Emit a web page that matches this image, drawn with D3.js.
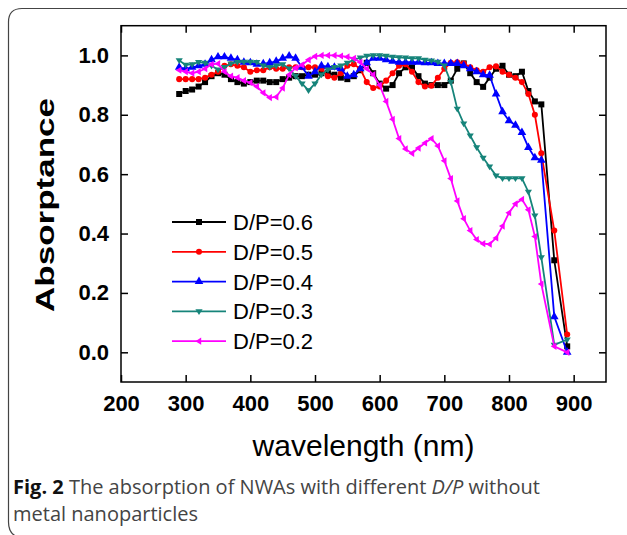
<!DOCTYPE html>
<html>
<head>
<meta charset="utf-8">
<script src="https://cdn.jsdelivr.net/npm/d3@7"></script>
<style>
  html, body { margin: 0; padding: 0; background: #fff; }
</style>
</head>
<body>
<div id="chart"></div>
<script>
// Absorptance of NWAs for different D/P ratios

// wavelength grid (nm), shared by every series
const wavelengths = [
  290, 300, 310, 320, 330, 340, 350, 360, 370, 380, 390, 400, 410, 420, 430,
  440, 450, 460, 470, 480, 490, 500, 510, 520, 530, 540, 550, 560, 570, 580,
  590, 600, 610, 620, 630, 640, 650, 660, 670, 680, 690, 700, 710, 720, 730,
  740, 750, 760, 770, 780, 790, 800, 810, 820, 830, 840, 850, 870, 890,
];

const dp06 = [
  0.87, 0.88, 0.885, 0.895, 0.91, 0.93, 0.94, 0.935, 0.92, 0.91, 0.905, 0.91,
  0.915, 0.915, 0.91, 0.91, 0.92, 0.925, 0.93, 0.93, 0.935, 0.935, 0.94, 0.94,
  0.935, 0.925, 0.92, 0.93, 0.95, 0.975, 0.94, 0.905, 0.888, 0.9, 0.94, 0.96,
  0.96, 0.93, 0.905, 0.9, 0.9, 0.9, 0.915, 0.955, 0.973, 0.94, 0.91, 0.894,
  0.925, 0.955, 0.965, 0.935, 0.93, 0.945, 0.88, 0.845, 0.835, 0.31, 0.02,
];
const dp05 = [
  0.92, 0.92, 0.92, 0.92, 0.925, 0.935, 0.945, 0.965, 0.97, 0.965, 0.96, 0.945,
  0.95, 0.95, 0.96, 0.955, 0.955, 0.96, 0.96, 0.96, 0.96, 0.96, 0.955, 0.93,
  0.925, 0.94, 0.965, 0.97, 0.955, 0.91, 0.89, 0.895, 0.915, 0.94, 0.965, 0.97,
  0.945, 0.91, 0.895, 0.898, 0.925, 0.955, 0.975, 0.977, 0.973, 0.96, 0.95,
  0.945, 0.96, 0.963, 0.945, 0.935, 0.925, 0.91, 0.87, 0.8, 0.67, 0.41, 0.06,
];
const dp04 = [
  0.96, 0.955, 0.96, 0.965, 0.97, 0.985, 0.995, 0.995, 0.99, 0.985, 0.977,
  0.975, 0.97, 0.972, 0.975, 0.98, 0.99, 0.998, 0.99, 0.96, 0.93, 0.945, 0.965,
  0.962, 0.96, 0.955, 0.93, 0.935, 0.955, 0.975, 0.99, 0.99, 0.985, 0.98,
  0.977, 0.977, 0.977, 0.977, 0.975, 0.975, 0.973, 0.973, 0.973, 0.973, 0.965,
  0.955, 0.945, 0.935, 0.933, 0.87, 0.81, 0.78, 0.765, 0.74, 0.69, 0.655,
  0.647, 0.12, 0.0,
];
const dp03 = [
  0.983, 0.968, 0.97, 0.977, 0.975, 0.965, 0.952, 0.96, 0.972, 0.977, 0.978,
  0.978, 0.977, 0.965, 0.96, 0.965, 0.97, 0.955, 0.93, 0.905, 0.882, 0.905,
  0.935, 0.952, 0.96, 0.965, 0.975, 0.985, 0.992, 0.998, 1.0, 1.0, 0.998,
  0.995, 0.993, 0.992, 0.99, 0.99, 0.985, 0.982, 0.978, 0.965, 0.91, 0.82,
  0.77, 0.73, 0.69, 0.655, 0.625, 0.595, 0.586, 0.586, 0.586, 0.586, 0.54,
  0.46, 0.32, 0.025, 0.043,
];
const dp02 = [
  0.95, 0.945, 0.94, 0.945, 0.955, 0.97, 0.972, 0.945, 0.93, 0.925, 0.915,
  0.908, 0.895, 0.874, 0.858, 0.86, 0.89, 0.935, 0.958, 0.968, 0.985, 0.997,
  1.0, 1.0, 1.0, 0.998, 0.995, 0.99, 0.977, 0.955, 0.935, 0.9, 0.845, 0.785,
  0.72, 0.685, 0.67, 0.688, 0.705, 0.72, 0.695, 0.645, 0.585, 0.51, 0.45, 0.41,
  0.38, 0.366, 0.364, 0.385, 0.425, 0.47, 0.5, 0.515, 0.48, 0.39, 0.23, 0.02,
  0.0,
];

const seriesNames = ["D/P=0.6", "D/P=0.5", "D/P=0.4", "D/P=0.3", "D/P=0.2"];
const seriesValues = [dp06, dp05, dp04, dp03, dp02];
const seriesColours = ["#000000", "#ff0000", "#0000ff", "#16847a", "#ff00ff"];
// square, circle, up triangle, down triangle, left triangle
const seriesMarkers = ["square", "circle", "up", "down", "left"];

const xTicks = [200, 300, 400, 500, 600, 700, 800, 900];
const yTicks = [0.0, 0.2, 0.4, 0.6, 0.8, 1.0];

const width = 627;
const height = 535;
const tickFont = "'Liberation Sans', Arial, sans-serif";

let svg = d3
  .select("#chart")
  .append("svg")
  .attr("width", width)
  .attr("height", height)
  .style("display", "block");

// rounded frame round the figure + caption
svg
  .append("path")
  .attr("d", "M 640 8.5 H 22 Q 8.5 8.5 8.5 22 V 522 Q 8.5 534 18 537")
  .attr("fill", "none")
  .attr("stroke", "#444")
  .attr("stroke-width", 1.2);

const plot = { left: 121, right: 606, top: 25.7, bottom: 382 };

const x = d3.scaleLinear().domain([200, 950]).range([plot.left, plot.right]);
const y = d3.scaleLinear().domain([-0.1, 1.1]).range([plot.bottom, plot.top]);

// axes with inward ticks, on all four sides
const axisStyle = function (g) {
  g.select(".domain").remove();
  g.selectAll(".tick line").attr("stroke", "#000").attr("stroke-width", 1.5);
  g.selectAll(".tick text")
    .style("font-family", tickFont)
    .style("font-weight", "bold")
    .style("font-size", "22px")
    .attr("fill", "#000");
};

svg
  .append("g")
  .attr("transform", `translate(0,${plot.bottom})`)
  .call(
    d3.axisBottom(x).tickValues(xTicks).tickSizeInner(-7).tickSizeOuter(0)
      .tickPadding(13).tickFormat(d3.format("d"))
  )
  .call(axisStyle);

svg
  .append("g")
  .attr("transform", `translate(0,${plot.top})`)
  .call(d3.axisTop(x).tickValues(xTicks).tickSizeInner(-7).tickFormat(""))
  .call(axisStyle);

svg
  .append("g")
  .attr("transform", `translate(${plot.left},0)`)
  .call(
    d3.axisLeft(y).tickValues(yTicks).tickSizeInner(-7).tickPadding(12)
      .tickFormat(d3.format(".1f"))
  )
  .call(axisStyle);

svg
  .append("g")
  .attr("transform", `translate(${plot.right},0)`)
  .call(d3.axisRight(y).tickValues(yTicks).tickSizeInner(-7).tickFormat(""))
  .call(axisStyle);

// plot frame
svg
  .append("rect")
  .attr("x", plot.left)
  .attr("y", plot.top)
  .attr("width", plot.right - plot.left)
  .attr("height", plot.bottom - plot.top)
  .attr("fill", "none")
  .attr("stroke", "#000")
  .attr("stroke-width", 1.5);

const markerPath = function (type, s) {
  if (type === "square") return d3.symbol(d3.symbolSquare, s * s)();
  if (type === "circle") return d3.symbol(d3.symbolCircle, s * s * 0.8)();
  if (type === "up") return d3.symbol(d3.symbolTriangle, s * s * 0.9)();
  const h = s * 0.6;
  if (type === "down") return `M${-h},${-h * 0.6}L${h},${-h * 0.6}L0,${h}Z`;
  return `M${-h},0L${h * 0.6},${-h}L${h * 0.6},${h}Z`;
};

const line = d3
  .line()
  .x((d) => x(d[0]))
  .y((d) => y(d[1]));

seriesValues.forEach(function (vals, i) {
  const pts = wavelengths.map((w, j) => [w, vals[j]]);
  let g = svg.append("g").attr("class", "series");
  g.append("path")
    .attr("d", line(pts))
    .attr("fill", "none")
    .attr("stroke", seriesColours[i])
    .attr("stroke-width", 1.8);
  g.selectAll("path.marker")
    .data(pts)
    .enter()
    .append("path")
    .attr("class", "marker")
    .attr("transform", (d) => `translate(${x(d[0])},${y(d[1])})`)
    .attr("d", markerPath(seriesMarkers[i], 6))
    .attr("fill", seriesColours[i]);
});

// legend
const legendX = 172;
const legendY = 222;
const legendStep = 29.8;
seriesNames.forEach(function (name, i) {
  let g = svg
    .append("g")
    .attr("transform", `translate(${legendX},${legendY + i * legendStep})`);
  g.append("line")
    .attr("x1", 0)
    .attr("x2", 54)
    .attr("stroke", seriesColours[i])
    .attr("stroke-width", 1.8);
  g.append("path")
    .attr("transform", "translate(27,0)")
    .attr("d", markerPath(seriesMarkers[i], 6))
    .attr("fill", seriesColours[i]);
  g.append("text")
    .attr("x", 61)
    .attr("dy", "0.36em")
    .style("font-family", tickFont)
    .style("font-size", "22px")
    .attr("fill", "#000")
    .text(name);
});

// axis titles
svg
  .append("text")
  .attr("x", (plot.left + plot.right) / 2)
  .attr("y", 456)
  .attr("text-anchor", "middle")
  .style("font-family", tickFont)
  .style("font-size", "30px")
  .attr("fill", "#000")
  .text("wavelength (nm)");

svg
  .append("text")
  .attr("transform", "translate(54,205) rotate(-90)")
  .attr("text-anchor", "middle")
  .attr("textLength", 214)
  .attr("lengthAdjust", "spacingAndGlyphs")
  .style("font-family", tickFont)
  .style("font-weight", "bold")
  .style("font-size", "26px")
  .attr("fill", "#000")
  .text("Absorptance");

// caption
const captionFont = "'Open Sans', 'Noto Sans', sans-serif";
let cap1 = svg
  .append("text")
  .attr("x", 13)
  .attr("y", 494)
  .style("font-family", captionFont)
  .style("font-size", "20px")
  .attr("fill", "#444");
cap1.append("tspan").style("font-weight", "bold").attr("fill", "#111").text("Fig. 2");
cap1.append("tspan").text(" The absorption of NWAs with different ");
cap1.append("tspan").style("font-style", "italic").text("D/P");
cap1.append("tspan").text(" without");

svg
  .append("text")
  .attr("x", 13)
  .attr("y", 521)
  .style("font-family", captionFont)
  .style("font-size", "20px")
  .attr("fill", "#444")
  .text("metal nanoparticles");
</script>
</body>
</html>
